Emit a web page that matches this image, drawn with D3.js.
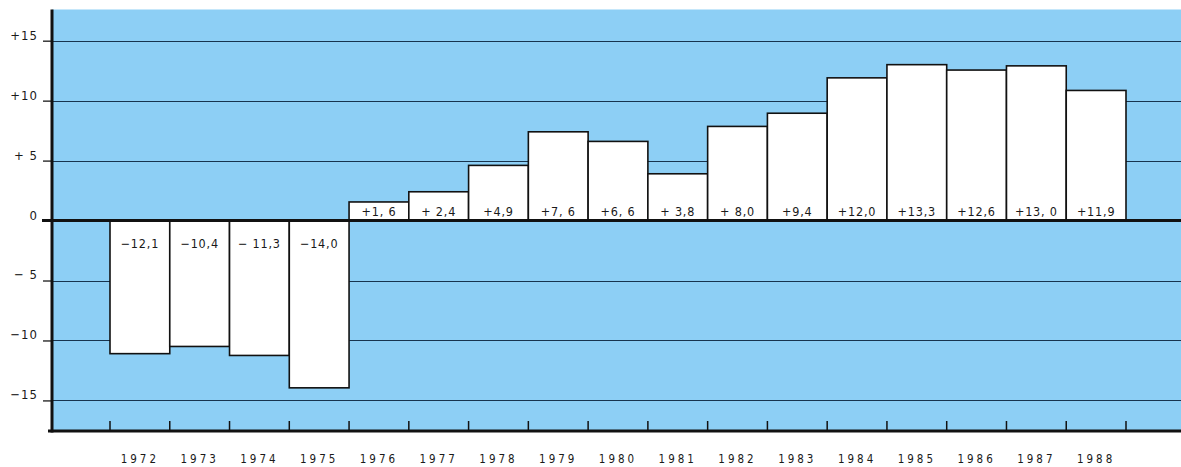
<!DOCTYPE html>
<html>
<head>
<meta charset="utf-8">
<script src="https://cdn.jsdelivr.net/npm/d3@7/dist/d3.min.js"></script>
<style>
  html, body { margin: 0; padding: 0; background: #ffffff; }
  svg { display: block; }
  text { font-family: "DejaVu Sans Condensed", "DejaVu Sans", sans-serif; fill: #1a1a1a; }
</style>
</head>
<body>
<svg id="chart" width="1181" height="467"></svg>
<script>
// ---- data ----
const years = ["1972","1973","1974","1975","1976","1977","1978","1979","1980",
               "1981","1982","1983","1984","1985","1986","1987","1988"];
// bar heights as drawn in the picture
const values = [-11.1, -10.5, -11.25, -13.95, 1.55, 2.4, 4.6, 7.4, 6.6,
                3.9, 7.85, 8.95, 11.9, 13.0, 12.55, 12.9, 10.85];
// printed value labels
const valueLabels = ["−12,1","−10,4","− 11,3","−14,0","+1, 6","+ 2,4","+4,9","+7, 6","+6, 6",
                     "+ 3,8","+ 8,0","+9,4","+12,0","+13,3","+12,6","+13, 0","+11,9"];
const yTicks = [15, 10, 5, 0, -5, -10, -15];
const yTickLabels = ["+15", "+10", "+ 5", "0", "− 5", "−10", "−15"];

// ---- layout ----
const W = 1181, H = 467;
const plotLeft = 52, plotRight = 1181, plotTop = 9.5, plotBottom = 431;
const svg = d3.select("#chart");

const y = d3.scaleLinear().domain([-17.55, 17.6]).range([plotBottom, plotTop]);
const x = d3.scaleBand().domain(years).range([110, 1126]).padding(0);

// background
svg.append("rect")
  .attr("x", plotLeft).attr("y", plotTop)
  .attr("width", plotRight - plotLeft).attr("height", plotBottom - plotTop)
  .attr("fill", "#8dcff5");

// gridlines
svg.append("g").selectAll("line")
  .data(yTicks.filter(d => d !== 0))
  .join("line")
  .attr("x1", plotLeft).attr("x2", plotRight)
  .attr("y1", d => Math.round(y(d)) + 0.5).attr("y2", d => Math.round(y(d)) + 0.5)
  .attr("stroke", "#17344f").attr("stroke-width", 1.1);

// y axis ticks and labels
const yAxis = d3.axisLeft(y).tickValues(yTicks)
  .tickSize(9).tickPadding(0)
  .tickFormat((d, i) => yTickLabels[i]);
const gy = svg.append("g").attr("transform", `translate(${plotLeft},0)`).call(yAxis);
gy.select(".domain").remove();
gy.selectAll(".tick line").attr("stroke", "#1a1a1a").attr("stroke-width", 1.3);
gy.selectAll(".tick text")
  .attr("x", -14).attr("dy", "-0.12em")
  .attr("font-size", 13).attr("letter-spacing", 1)
  .style("font-family", '"DejaVu Sans Condensed", sans-serif')
  .attr("fill", "#1a1a1a");

// bars
svg.append("g").selectAll("rect")
  .data(values)
  .join("rect")
  .attr("x", (d, i) => x(years[i]))
  .attr("width", x.bandwidth())
  .attr("y", d => y(Math.max(0, d)))
  .attr("height", d => Math.abs(y(d) - y(0)))
  .attr("fill", "#ffffff")
  .attr("stroke", "#111")
  .attr("stroke-width", 1.6);

// zero line
svg.append("line")
  .attr("x1", 42).attr("x2", plotRight)
  .attr("y1", y(0)).attr("y2", y(0))
  .attr("stroke", "#111").attr("stroke-width", 3);

// left axis line
svg.append("line")
  .attr("x1", plotLeft).attr("x2", plotLeft)
  .attr("y1", plotTop).attr("y2", plotBottom + 1.5)
  .attr("stroke", "#111").attr("stroke-width", 3);

// bottom axis with inward ticks at bar boundaries
const bounds = years.map(yr => x(yr)).concat([x(years[years.length - 1]) + x.bandwidth()]);
svg.append("line")
  .attr("x1", 48).attr("x2", plotRight)
  .attr("y1", plotBottom).attr("y2", plotBottom)
  .attr("stroke", "#111").attr("stroke-width", 3);
svg.append("g").selectAll("line")
  .data(bounds)
  .join("line")
  .attr("x1", d => d).attr("x2", d => d)
  .attr("y1", plotBottom).attr("y2", plotBottom - 10)
  .attr("stroke", "#111").attr("stroke-width", 1.5);

// year labels
svg.append("g").selectAll("text")
  .data(years)
  .join("text")
  .attr("x", d => x(d) + x.bandwidth() / 2)
  .attr("y", 463)
  .attr("text-anchor", "middle")
  .attr("font-size", 11.5)
  .attr("letter-spacing", 3)
  .text(d => d);

// value labels
svg.append("g").selectAll("text")
  .data(values)
  .join("text")
  .attr("x", (d, i) => x(years[i]) + x.bandwidth() / 2)
  .attr("y", d => d >= 0 ? y(0) - 4.5 : y(0) + 27)
  .attr("text-anchor", "middle")
  .attr("font-size", 12.5)
  .attr("letter-spacing", 0.8)
  .text((d, i) => valueLabels[i]);
</script>
</body>
</html>
